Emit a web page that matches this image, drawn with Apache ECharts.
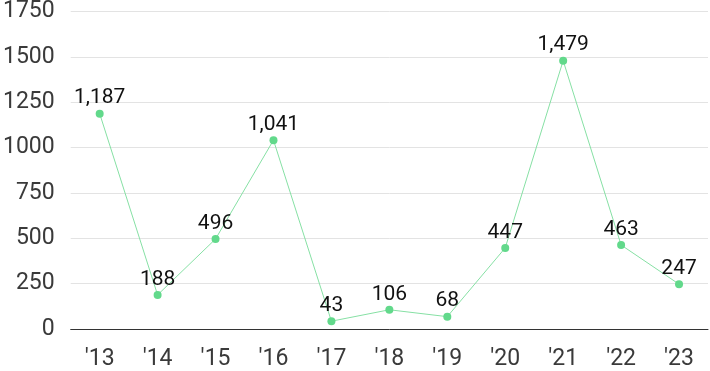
<!DOCTYPE html>
<html><head><meta charset="utf-8">
<script src="https://cdn.jsdelivr.net/npm/echarts@6/dist/echarts.min.js"></script>
<style>html,body{margin:0;padding:0;background:#fff}#c{width:710px;height:371px}</style>
</head><body><div id="c"></div>
<script>
var categories = ["'13","'14","'15","'16","'17","'18","'19","'20","'21","'22","'23"];
var values = [1187, 188, 496, 1041, 43, 106, 68, 447, 1479, 463, 247];
var yTicks = [0, 250, 500, 750, 1000, 1250, 1500, 1750];

var chart = echarts.init(document.getElementById('c'), null, {renderer: 'canvas'});
chart.setOption({
  animation: false,
  grid: {left: 70, right: 2, top: 7, bottom: 40, containLabel: false},
  xAxis: {
    type: 'category', data: categories, boundaryGap: true,
    axisLine: {lineStyle: {color: '#333', width: 1}},
    axisTick: {show: false},
    axisLabel: {color: '#3a3a3a', fontSize: 23, fontFamily: 'Roboto', margin: 19}
  },
  yAxis: {
    type: 'value', min: yTicks[0], max: yTicks[yTicks.length-1], interval: 250,
    axisLine: {show: false}, axisTick: {show: false},
    splitLine: {lineStyle: {color: '#e3e3e3', width: 1}},
    axisLabel: {color: '#3a3a3a', fontSize: 23, fontFamily: 'Roboto', margin: 16,
      padding: [6, 0, 0, 0],
      formatter: function(v){ return String(v); }}
  },
  series: [{
    type: 'line', data: values,
    symbol: 'circle', symbolSize: 8,
    lineStyle: {color: '#86e0a4', width: 1},
    itemStyle: {color: '#62d98b'},
    label: {show: true, position: 'top', distance: 1, color: '#111', fontSize: 21, fontFamily: 'Roboto',
      formatter: function(p){ return p.value.toLocaleString('en-US'); }}
  }]
});
</script></body></html>
